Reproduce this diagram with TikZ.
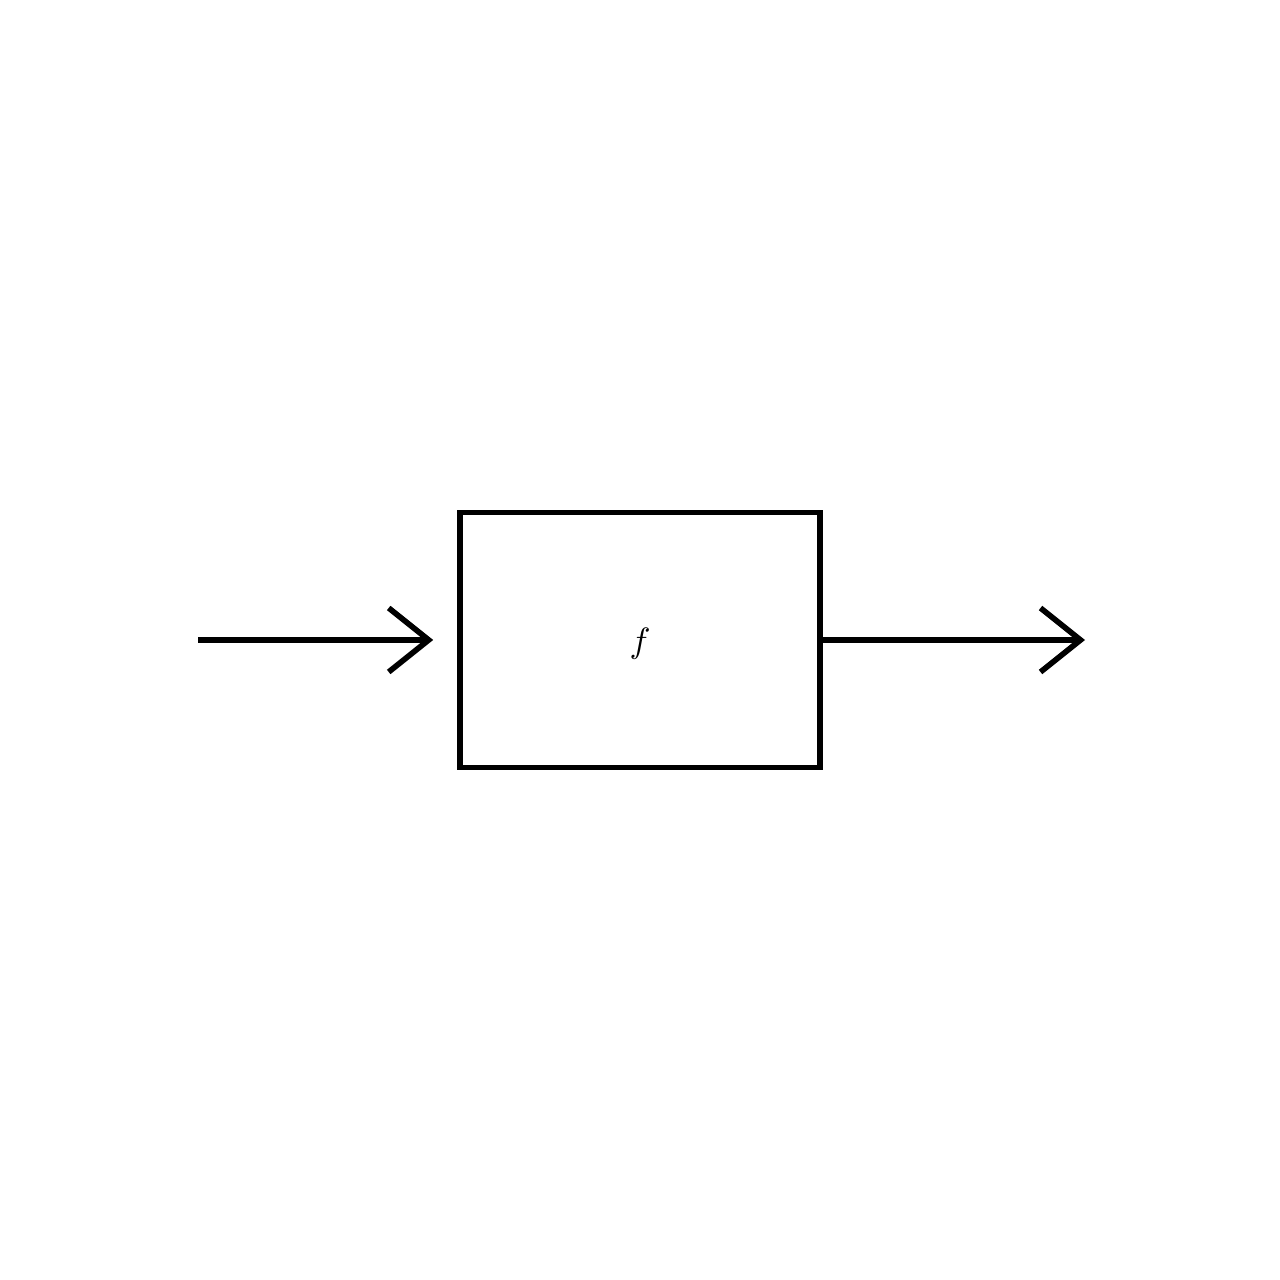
\documentclass[tikz,border=0pt]{standalone}
\usepackage{amsthm,amssymb,mathtools}
\usetikzlibrary{arrows.meta}

\begin{document}
\begin{tikzpicture}
		\useasboundingbox (0,0) rectangle (12.8,12.8);
		\tikzstyle{block}=[draw,line width=1.6pt,minimum width=3.6cm,minimum height=2.55cm,inner sep=0pt]
		\tikzstyle{flow}=[line width=1.6pt,-{Straight Barb[length=0.4cm,width=0.64cm]}]
		\node[block] (f_box) at (6.4,6.4) {};
		\node (f_lbl) at (6.4,6.36) {$f$};
		\coordinate (f_in) at (1.98,6.4);
		\coordinate (f_out) at (10.85,6.4);
		\draw[flow,shorten >=0.24cm] (f_in) -- (f_box);
		\draw[flow] (f_box) -- (f_out);
	\end{tikzpicture}
\end{document}
